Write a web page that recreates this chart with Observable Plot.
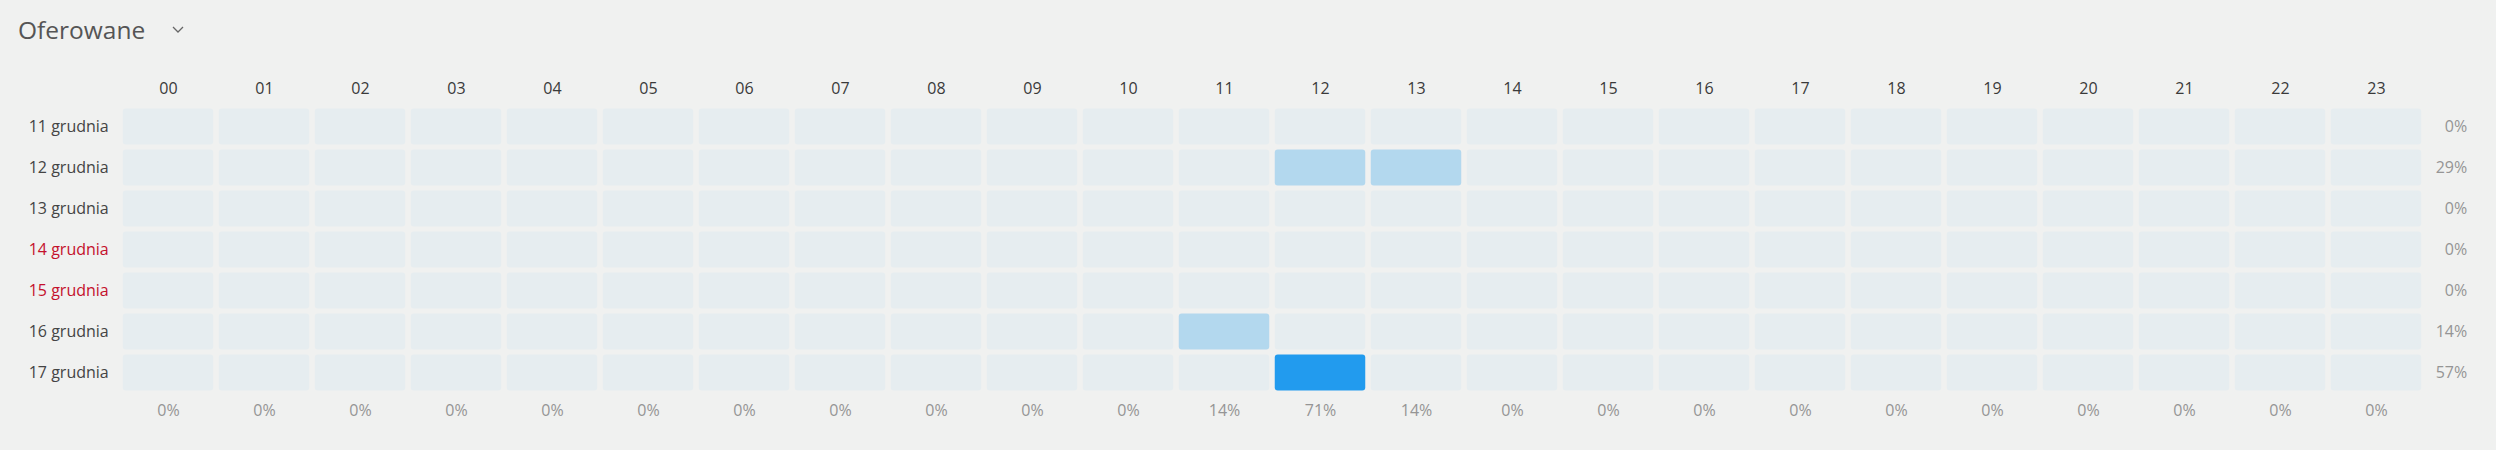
<!DOCTYPE html>
<html>
<head>
<meta charset="utf-8">
<script src="https://cdn.jsdelivr.net/npm/d3@7"></script>
<script src="https://cdn.jsdelivr.net/npm/@observablehq/plot@0.6"></script>
<style>
  html, body { margin: 0; padding: 0; background: #f0f1f0; font-family: "Open Sans", sans-serif; }
  #title { position: relative; height: 50px; width: 2496px; }
  #title .t { position: absolute; left: 18px; top: 18px; font-size: 24.5px; line-height: 24px; color: #555; }
  #title svg { position: absolute; left: 170px; top: 22px; }
  #chart svg { display: block; }
</style>
</head>
<body>
<div id="title"><span class="t">Oferowane</span><svg width="16" height="14"><polyline points="3,5 8,10 13,5" fill="none" stroke="#666" stroke-width="1.3"/></svg></div>
<div id="chart"></div>
<script>
const hours = ["00","01","02","03","04","05","06","07","08","09","10","11","12","13","14","15","16","17","18","19","20","21","22","23"];
const days = ["11 grudnia","12 grudnia","13 grudnia","14 grudnia","15 grudnia","16 grudnia","17 grudnia"];
const weekend = [false, false, false, true, true, false, false];
const counts = [
  [0,0,0,0,0,0,0,0,0,0,0,0,0,0,0,0,0,0,0,0,0,0,0,0],
  [0,0,0,0,0,0,0,0,0,0,0,0,1,1,0,0,0,0,0,0,0,0,0,0],
  [0,0,0,0,0,0,0,0,0,0,0,0,0,0,0,0,0,0,0,0,0,0,0,0],
  [0,0,0,0,0,0,0,0,0,0,0,0,0,0,0,0,0,0,0,0,0,0,0,0],
  [0,0,0,0,0,0,0,0,0,0,0,0,0,0,0,0,0,0,0,0,0,0,0,0],
  [0,0,0,0,0,0,0,0,0,0,0,1,0,0,0,0,0,0,0,0,0,0,0,0],
  [0,0,0,0,0,0,0,0,0,0,0,0,4,0,0,0,0,0,0,0,0,0,0,0]
];
const rowPct = ["0%","29%","0%","0%","0%","14%","57%"];
const colPct = ["0%","0%","0%","0%","0%","0%","0%","0%","0%","0%","0%","14%","71%","14%","0%","0%","0%","0%","0%","0%","0%","0%","0%","0%"];
const colors = ["#e6edf0", "#b3d8ee", "#229bee"];

const cells = days.flatMap((d, i) => hours.map((h, j) => ({day: d, hour: h, value: counts[i][j]})));
const rowTotals = days.map((d, i) => ({day: d, label: rowPct[i]}));
const colTotals = hours.map((h, j) => ({hour: h, label: colPct[j]}));
const weekdays = days.filter((d, i) => !weekend[i]);
const weekendDays = days.filter((d, i) => weekend[i]);

const chart = Plot.plot({
  width: 2496,
  height: 400,
  marginTop: 54,
  marginBottom: 55.7,
  marginLeft: 118.25,
  marginRight: 69.7,
  style: {background: "transparent", fontFamily: "'Open Sans', sans-serif", fontSize: "16px"},
  x: {domain: hours, padding: 0, axis: null},
  y: {domain: days, padding: 0, axis: null},
  color: {type: "threshold", domain: [1, 3], range: colors},
  marks: [
    Plot.cell(cells, {x: "hour", y: "day", fill: "value", insetLeft: 2.75, insetRight: 2.75, insetTop: 2.6, insetBottom: 2.6, rx: 3}),
    Plot.text(hours, {x: d => d, frameAnchor: "top", dy: -22, fill: "#3a3a3a", fontSize: 16}),
    Plot.text(weekdays, {y: d => d, frameAnchor: "left", textAnchor: "end", dx: -10, fill: "#444", fontSize: 16}),
    Plot.text(weekendDays, {y: d => d, frameAnchor: "left", textAnchor: "end", dx: -10, fill: "#c4102c", fontSize: 16}),
    Plot.text(rowTotals, {y: "day", text: "label", frameAnchor: "right", textAnchor: "end", dx: 40.4, fill: "#959595", fontSize: 16}),
    Plot.text(colTotals, {x: "hour", text: "label", frameAnchor: "bottom", dy: 21.4, fill: "#959595", fontSize: 16})
  ]
});
document.getElementById("chart").appendChild(chart);
</script>
</body>
</html>
